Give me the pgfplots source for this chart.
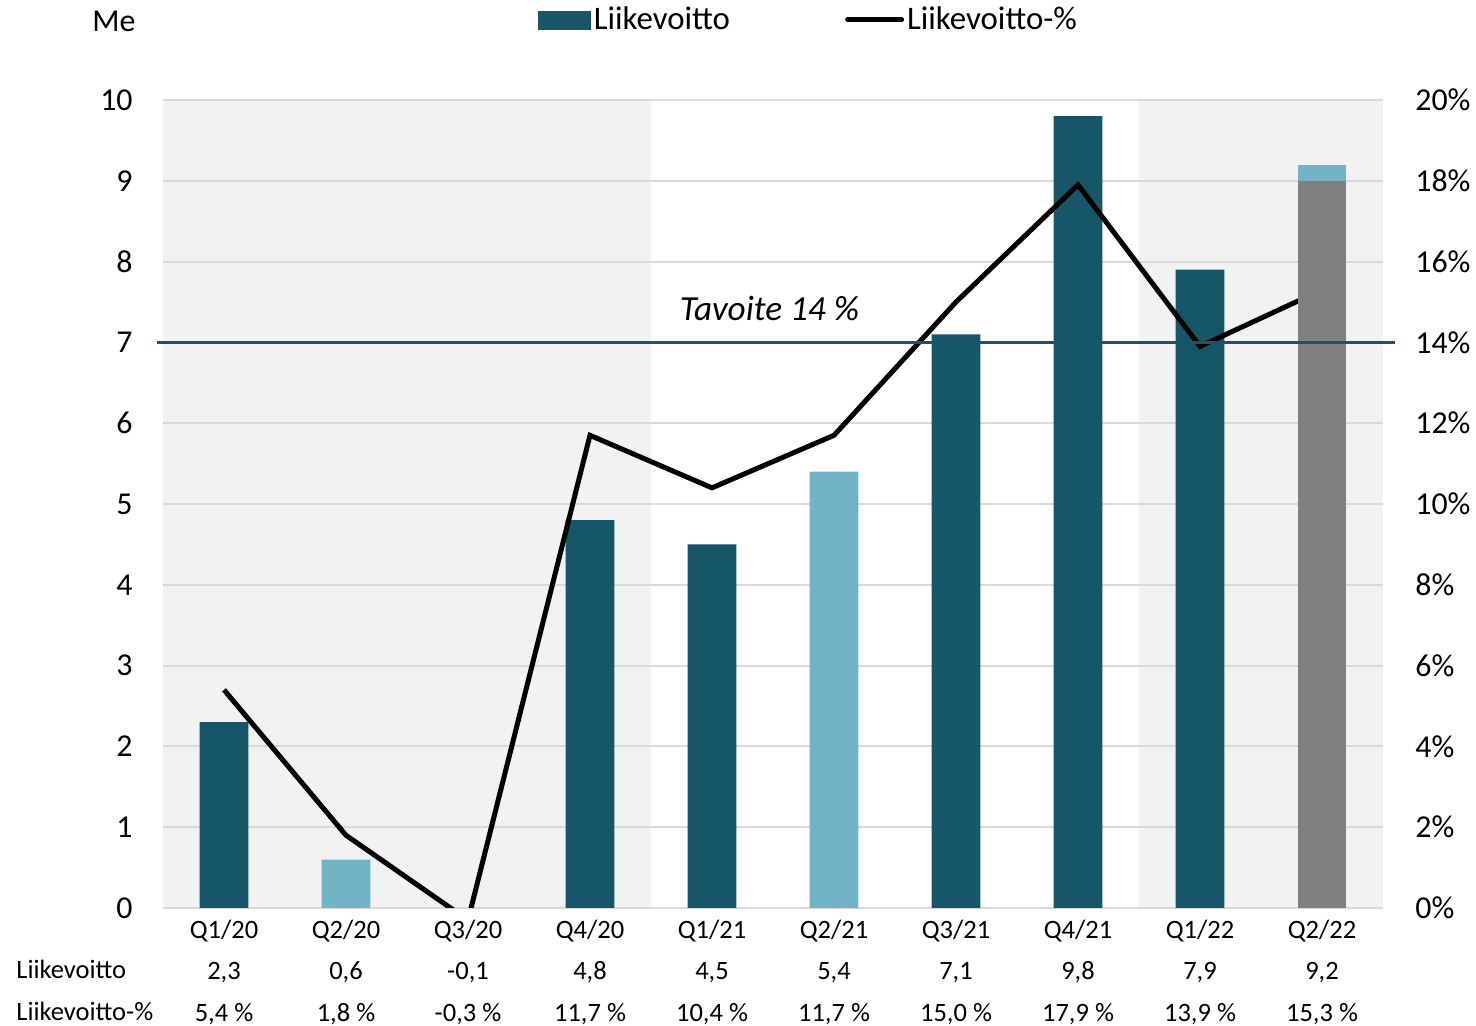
\documentclass[border=0pt]{standalone}
\usepackage{fontspec}
\setmainfont{Carlito}
\usepackage{pgfplots}
\pgfplotsset{compat=1.18}

\definecolor{lvteal}{RGB}{23,86,104}
\definecolor{lvlight}{RGB}{114,179,198}
\definecolor{lvgray}{RGB}{128,128,128}
\definecolor{bggray}{RGB}{242,242,242}
\definecolor{gridgray}{RGB}{217,217,217}

\pgfplotsset{
  base/.style={
    width=610bp, height=404bp, scale only axis,
    xmin=-0.5, xmax=9.5,
    /pgf/number format/assume math mode=true,
    major tick length=0pt,
    axis line style={draw=none},
  },
}

\begin{document}
\begin{tikzpicture}
% left axis: bars in Me
\begin{axis}[base, set layers,
  ymin=0, ymax=10, ytick={0,...,10},
  ymajorgrids, grid style={color=gridgray, line width=1bp},
  xtick={0,...,9},
  xticklabels={{Q1/20\\2,3\\5,4 \%},{Q2/20\\0,6\\1,8 \%},{Q3/20\\-0,1\\-0,3 \%},
    {Q4/20\\4,8\\11,7 \%},{Q1/21\\4,5\\10,4 \%},{Q2/21\\5,4\\11,7 \%},
    {Q3/21\\7,1\\15,0 \%},{Q4/21\\9,8\\17,9 \%},{Q1/22\\7,9\\13,9 \%},
    {Q2/22\\9,2\\15,3 \%}},
  xticklabel style={align=center, inner sep=0pt, yshift=-5.8bp,
    font=\fontsize{13.3}{20.75}\selectfont},
  yticklabel style={inner sep=0pt, xshift=-15bp, font=\fontsize{16}{18}\selectfont},
  ytick pos=left,
]
\begin{pgfonlayer}{axis background}
  \fill[bggray] (axis cs:-0.5,0) rectangle (axis cs:3.5,10);
  \fill[bggray] (axis cs:7.5,0) rectangle (axis cs:9.5,10);
\end{pgfonlayer}
\addplot[ybar, bar width=0.4, bar shift=0pt, fill=lvteal, draw=none]
  coordinates {(0,2.3) (2,-0.1) (3,4.8) (4,4.5) (6,7.1) (7,9.8) (8,7.9)};
\addplot[ybar, bar width=0.4, bar shift=0pt, fill=lvlight, draw=none]
  coordinates {(1,0.6) (5,5.4)};
\end{axis}

% right axis: operating margin in %
\begin{axis}[base,
  ymin=0, ymax=20, ytick={0,2,...,20},
  xtick=\empty,
  ytick pos=right,
  yticklabel={\pgfmathprintnumber{\tick}\%},
  yticklabel style={inner sep=0pt, anchor=west, xshift=16bp, font=\fontsize{16}{18}\selectfont},
  legend columns=2,
  legend style={at={(rel axis cs:0.3074,1.099)}, anchor=west, draw=none, fill=none,
    inner sep=0pt, outer sep=0pt, font=\fontsize{16.5}{18}\selectfont,
    nodes={inner sep=1.5bp},
    /tikz/every even column/.append style={column sep=56bp}},
]
\addlegendimage{legend image code/.code={
  \fill[lvteal] (0bp,-4.5bp) rectangle (26bp,4.5bp);}}
\addplot[black, line width=2.5bp, legend image code/.code={
  \draw[black, line width=2.5bp, line cap=round] (0bp,0bp) -- (27bp,0bp);}] coordinates {
  (0,5.4) (1,1.8) (2,-0.3) (3,11.7) (4,10.4) (5,11.7) (6,15.0) (7,17.9) (8,13.9) (9,15.3)};
\legend{Liikevoitto, Liikevoitto-\%}
\end{axis}

% top layer: Q2/22 bar, target line and free texts
\begin{axis}[base, hide axis, clip=false, ymin=0, ymax=10]
\addplot[ybar, bar width=0.4, bar shift=0pt, fill=lvlight, draw=none]
  coordinates {(9,9.2)};
\addplot[ybar, bar width=0.4, bar shift=0pt, fill=lvgray, draw=none]
  coordinates {(9,9.0)};
\addplot[lvteal, line width=1.75bp] coordinates {(-0.549,7) (9.598,7)};
\node[anchor=base, font=\itshape\fontsize{17.7}{20}\selectfont, inner sep=0pt]
  at (axis cs:4.471,7.27) {Tavoite 14 \%};
\node[anchor=base west, font=\fontsize{13.3}{15}\selectfont, inner sep=0pt]
  at (rel axis cs:-0.1205,-0.0870) {Liikevoitto};
\node[anchor=base west, font=\fontsize{13.3}{15}\selectfont, inner sep=0pt]
  at (rel axis cs:-0.1205,-0.1395) {Liikevoitto-\%};
\node[anchor=base, font=\fontsize{16}{18}\selectfont, inner sep=0pt]
  at (rel axis cs:-0.0402,1.0845) {Me};
\end{axis}

% whole picture = 1476 x 1026 px at 0.5 bp per px
\pgfresetboundingbox
\path[use as bounding box] (-81.5bp,-59bp) rectangle (656.5bp,454bp);
\end{tikzpicture}
\end{document}
